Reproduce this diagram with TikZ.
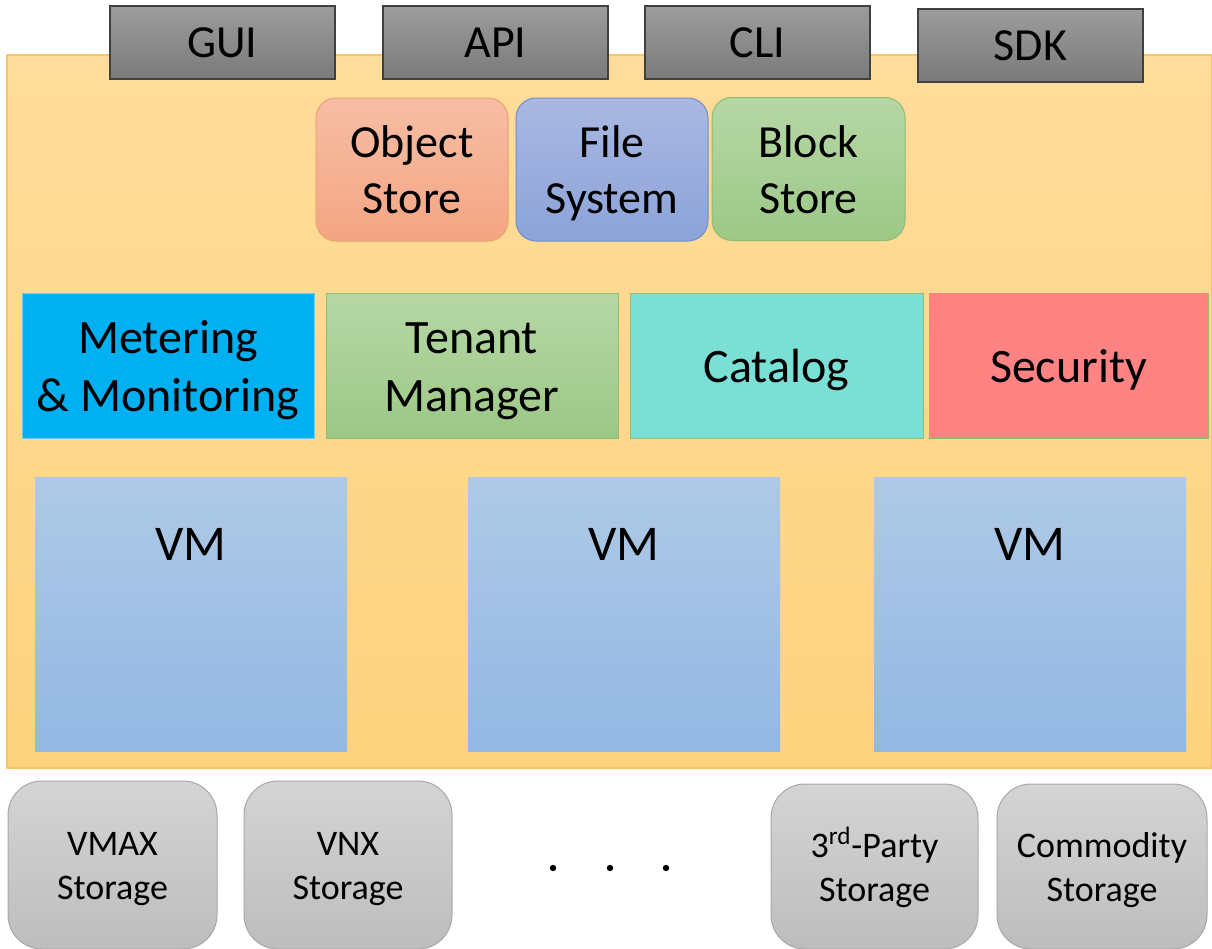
\documentclass[tikz,border=0pt]{standalone}
\usepackage{fontspec}
\setmainfont{Carlito}
\usepackage{tikz}
\usetikzlibrary{positioning}
\usepackage{xcolor}

\definecolor{panelTop}{HTML}{FEDC9B}
\definecolor{panelBot}{HTML}{FDD37E}
\definecolor{panelLine}{HTML}{F4C66A}
\definecolor{apiTop}{HTML}{9C9C9C}
\definecolor{apiBot}{HTML}{7A7A7A}
\definecolor{objTop}{HTML}{F6BEA5}
\definecolor{objBot}{HTML}{F4A582}
\definecolor{objLine}{HTML}{EEA06C}
\definecolor{fileTop}{HTML}{AAB8E2}
\definecolor{fileBot}{HTML}{8CA3D8}
\definecolor{fileLine}{HTML}{6F8FCB}
\definecolor{greenTop}{HTML}{B6D7A6}
\definecolor{greenBot}{HTML}{9CC886}
\definecolor{greenLine}{HTML}{8DBE6E}
\definecolor{meterFill}{HTML}{00B0F0}
\definecolor{catFill}{HTML}{7ADFD5}
\definecolor{secFill}{HTML}{FF8383}
\definecolor{vmTop}{HTML}{AEC9E6}
\definecolor{vmBot}{HTML}{93B8E3}
\definecolor{storTop}{HTML}{D4D4D4}
\definecolor{storBot}{HTML}{BDBDBD}
\definecolor{storLine}{HTML}{A8A8A8}

% fixed line metrics, so that every box text sits the same way
\newcommand{\stacked}[2]{\rule{0pt}{1em}#1\\#2\rule[-0.3em]{0pt}{0pt}}
\newcommand{\single}[1]{\rule{0pt}{1em}#1\rule[-0.3em]{0pt}{0pt}}

\tikzset{
  apibox/.style={draw=black!75, line width=0.6pt, top color=apiTop, bottom color=apiBot,
    minimum width=112.5pt, minimum height=36.5pt, inner sep=0pt, font=\fontsize{23}{28}\selectfont},
  svcbox/.style={rounded corners=10pt, line width=0.5pt, minimum width=96pt, minimum height=71.5pt,
    inner sep=0pt, align=center, font=\fontsize{23}{28}\selectfont},
  midbox/.style={draw=greenLine, line width=0.5pt, minimum height=72.5pt, inner sep=0pt,
    align=center, font=\fontsize{24}{29.3}\selectfont},
  vmbox/.style={top color=vmTop, bottom color=vmBot, minimum width=156pt, minimum height=137pt, inner sep=0pt},
  vmlabel/.style={anchor=center, yshift=-34pt, font=\fontsize{25}{30}\selectfont},
  storbox/.style={draw=storLine, line width=0.5pt, rounded corners=17pt, top color=storTop, bottom color=storBot,
    minimum height=84pt, inner sep=0pt, align=center, font=\fontsize{18}{22}\selectfont}
}

\begin{document}
\begin{tikzpicture}[x=0.5pt, y=-0.5pt]
\useasboundingbox (0,0) rectangle (1212,949);

% platform background
\node[draw=panelLine, line width=0.6pt, top color=panelTop, bottom color=panelBot,
  minimum width=602.5pt, minimum height=356.5pt, inner sep=0pt] (platform) at (609.5,411.5) {};

% access layer
\node[apibox] (gui) at (222.5,42.5) {GUI};
\node[apibox] (api) at (495.5,42.5) {API};
\node[apibox] (cli) at (757.5,42.5) {CLI};
\node[apibox] (sdk) at (1030.5,45.5) {SDK};

% data services
\node[svcbox, draw=objLine, top color=objTop, bottom color=objBot] (object) at (412,169.5) {\stacked{Object}{Store}};
\node[svcbox, draw=fileLine, top color=fileTop, bottom color=fileBot] (filesys) at (612,169.5) {\stacked{File}{System}};
\node[svcbox, draw=greenLine, top color=greenTop, bottom color=greenBot, minimum width=96.5pt] (block) at (808.5,169) {\stacked{Block}{Store}};

% management services
\node[midbox, draw=meterFill!60!white, fill=meterFill, minimum width=146pt] (metering) at (168,365.5) {\stacked{Metering}{\& Monitoring}};
\node[midbox, top color=greenTop, bottom color=greenBot, minimum width=146pt] (tenant) at (472,365.5) {\stacked{Tenant}{Manager}};
\node[midbox, fill=catFill, minimum width=146.5pt] (catalog) at (776.5,365.5) {\single{Catalog}};
\node[midbox, fill=secFill, minimum width=139.5pt] (security) at (1068.5,365.5) {\single{Security}};

% virtual machines
\node[vmbox, label={[vmlabel]north:VM}] (vma) at (191,614) {};
\node[vmbox, label={[vmlabel]north:VM}] (vmb) at (624,614) {};
\node[vmbox, label={[vmlabel]north:VM}] (vmc) at (1030,614) {};

% storage backends
\node[storbox, minimum width=104.5pt] (vmax) at (112.5,865) {\stacked{VMAX}{Storage}};
\node[storbox, minimum width=104pt] (vnx) at (348,865) {\stacked{VNX}{Storage}};
\node[storbox, minimum width=103.5pt, minimum height=82.5pt] (third) at (874.5,866.5) {\stacked{3\textsuperscript{rd}-Party}{Storage}};
\node[storbox, minimum width=105pt, minimum height=82.5pt] (commodity) at (1102,866.5) {\stacked{Commodity}{Storage}};

\foreach \x in {553,610,666}
  \fill (\x,868) circle (1.6pt);
\end{tikzpicture}
\end{document}
